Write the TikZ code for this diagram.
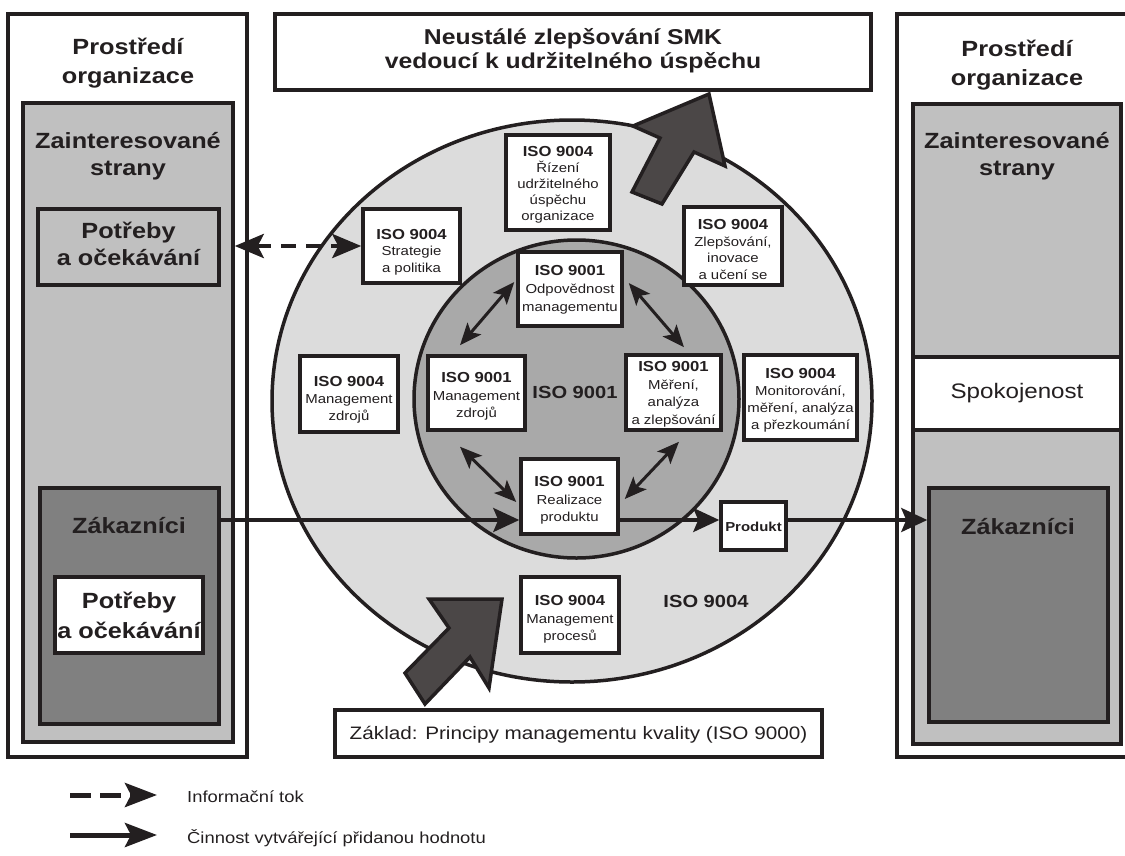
\documentclass[tikz,border=0pt]{standalone}
\usepackage{fontspec}
\setmainfont{Liberation Sans}[FakeStretch=1.15]
\usetikzlibrary{arrows.meta,calc,fit,shapes.geometric}

\definecolor{ink}{HTML}{231F20}
\definecolor{ringlight}{HTML}{DCDCDC}
\definecolor{ringdark}{HTML}{A9A9A9}
\definecolor{panelgray}{HTML}{C0C0C0}
\definecolor{custgray}{HTML}{808080}
\definecolor{blockfill}{HTML}{4B4747}

% bold heading line inside the small process boxes
\newcommand\isohd[1]{{\fontsize{14.5}{16.5}\selectfont\bfseries #1}}

\begin{document}
\begin{tikzpicture}[x=1pt,y=-1pt,line join=miter,
  frame/.style={draw=ink,line width=3.5pt},
  panel/.style={frame,rectangle,inner sep=0pt},
  isobox/.style={panel,fill=white},
  boxtext/.style={text=ink,align=center,inner sep=0pt,font=\fontsize{13}{#1}\selectfont},
  biglabel/.style={text=ink,align=center,inner sep=0pt,font=\fontsize{22}{#1}\selectfont\bfseries},
  biglabel/.default=27,
  ringlabel/.style={text=ink,inner sep=0pt,font=\fontsize{17.5}{20}\selectfont\bfseries},
  legtext/.style={text=ink,inner sep=0pt,font=\fontsize{16}{19}\selectfont},
  flow/.style={draw=ink,line width=3.5pt,-{Stealth[length=26pt,width=24pt,inset=5pt]}},
  twoway/.style={draw=ink,line width=3pt,{Stealth[length=22pt,width=18pt,inset=5pt]}-{Stealth[length=22pt,width=18pt,inset=5pt]}},
  infoflow/.style={draw=ink,line width=4.5pt,dash pattern=on 15pt off 10pt,{Stealth[length=29pt,width=24pt,inset=6pt]}-{Stealth[length=29pt,width=24pt,inset=6pt]}},
  legdash/.style={draw=ink,line width=5pt,dash pattern=on 21pt off 9pt,-{Stealth[length=32pt,width=24pt,inset=6pt]}},
  legsolid/.style={draw=ink,line width=5pt,-{Stealth[length=32pt,width=24pt,inset=6pt]}},
  blockarrow/.style={draw=ink,line width=3.5pt,fill=blockfill}]

\useasboundingbox (0,0) rectangle (1125,855);
\clip (0,0) rectangle (1125,855);

% ---------- left panel: context of the organization ----------
\node[panel,fill=white,fit={(8,14) (247,757)}] (lenv) {};
\node[biglabel=29] (lenvlbl) at (128,63.5) {Prostředí\\organizace};
\node[panel,fill=panelgray,fit={(23,103) (233,742)}] (lgray) {};
\node[biglabel] (lgraylbl) at (128,156.5) {Zainteresované\\strany};
\node[panel,fill=panelgray,fit={(38,209) (219,285)}] (lneeds) {};
\node[biglabel=27] (lneedstxt) at ($(lneeds.center)+(0,-3)$) {Potřeby\\a očekávání};
\node[panel,fill=custgray,fit={(40,488) (219,724)}] (lzak) {};
\node[biglabel] (lzaklbl) at (129,526) {Zákazníci};
\node[panel,fill=white,fit={(55,577) (203,653)}] (lcneeds) {};
\node[biglabel=30] (lcneedstxt) at (lcneeds.center) {Potřeby\\a očekávání};

% ---------- right panel ----------
\node[panel,fill=white,fit={(897,14) (1136,757)}] (renv) {};
\node[panel,fill=panelgray,fit={(913,104) (1121,744)}] (rgray) {};
\node[biglabel=29] (renvlbl) at (1017,65) {Prostředí\\organizace};
\node[biglabel] (rgraylbl) at (1017,156.5) {Zainteresované\\strany};
\node[panel,fill=white,fit={(913,357) (1121,430)}] (rsat) {};
\node[text=ink,inner sep=0pt,font=\fontsize{21}{24}\selectfont] (rsattxt) at (rsat.center) {Spokojenost};
\node[panel,fill=custgray,fit={(929,488) (1108,722)}] (rzak) {};
\node[biglabel] (rzaklbl) at (1018,527) {Zákazníci};

% ---------- title and foundation ----------
\node[panel,fill=white,fit={(275,14) (871,90)}] (title) {};
\node[text=ink,align=center,inner sep=0pt,font=\fontsize{21.5}{24}\selectfont\bfseries] (titletxt) at ($(title.center)+(0,-1.5)$) {Neustálé zlepšování SMK\\vedoucí k udržitelného úspěchu};
\node[panel,fill=white,fit={(335,710) (822,757)}] (base) {};
\node[text=ink,inner sep=0pt,font=\fontsize{18}{21}\selectfont] (basetxt) at ($(base.center)+(0,1.5)$) {Základ: Principy managementu kvality (ISO 9000)};

% ---------- rings ----------
\node[frame,ellipse,fill=ringlight,inner sep=0pt,minimum width=600pt,minimum height=562pt] (ring9004) at (572,401) {};
\node[frame,ellipse,fill=ringdark,inner sep=0pt,minimum width=325pt,minimum height=318pt] (ring9001) at (576.5,399) {};
\node[ringlabel] (lbl9001) at (575,392) {ISO 9001};
\node[ringlabel] (lbl9004) at (706,601) {ISO 9004};

% ---------- ISO 9004 boxes ----------
\node[isobox,fit={(363,209) (460,283)}] (strat) {};
\node[boxtext=16.5] (strattxt) at ($(strat.center)+(0,6)$) {\isohd{ISO 9004}\\Strategie\\a politika};
\node[isobox,fit={(506,135) (610,230)}] (rizeni) {};
\node[boxtext=16] (rizenitxt) at ($(rizeni.center)+(0,2)$) {\isohd{ISO 9004}\\Řízení\\udržitelného\\úspěchu\\organizace};
\node[isobox,fit={(684,207) (782,285)}] (zlep) {};
\node[boxtext=16.5] (zleptxt) at ($(zlep.center)+(0,3.5)$) {\isohd{ISO 9004}\\Zlepšování,\\inovace\\a učení se};
\node[isobox,fit={(300,356) (398,432)}] (mz4) {};
\node[boxtext=17] (mz4txt) at ($(mz4.center)+(0,6)$) {\isohd{ISO 9004}\\Management\\zdrojů};
\node[isobox,fit={(744,355) (857,440)}] (monit) {};
\node[boxtext=17] (monittxt) at ($(monit.center)+(0,2.5)$) {\isohd{ISO 9004}\\Monitorování,\\měření, analýza\\a přezkoumání};
\node[isobox,fit={(521,577) (619,653)}] (mproc) {};
\node[boxtext=17.5] (mproctxt) at ($(mproc.center)+(0,4.5)$) {\isohd{ISO 9004}\\Management\\procesů};

% ---------- ISO 9001 boxes ----------
\node[isobox,fit={(518,252) (622,326)}] (odp) {};
\node[boxtext=17.8] (odptxt) at ($(odp.center)+(0,0.5)$) {\isohd{ISO 9001}\\Odpovědnost\\managementu};
\node[isobox,fit={(428,356) (525,430)}] (mz1) {};
\node[boxtext=17.5] (mz1txt) at ($(mz1.center)+(0,3.5)$) {\isohd{ISO 9001}\\Management\\zdrojů};
\node[isobox,fit={(626,355) (721,430)}] (mer) {};
\node[boxtext=17.5] (mertxt) at ($(mer.center)+(0,2)$) {\isohd{ISO 9001}\\Měření,\\analýza\\a zlepšování};
\node[isobox,fit={(521,459) (618,534)}] (real) {};
\node[boxtext=17.5] (realtxt) at ($(real.center)+(0,4)$) {\isohd{ISO 9001}\\Realizace\\produktu};
\node[isobox,fit={(721,502) (786,550)}] (prod) {};
\node[text=ink,inner sep=0pt,font=\fontsize{13}{16}\selectfont\bfseries] (prodtxt) at ($(prod.center)+(0,1)$) {Produkt};

% ---------- links between the ISO 9001 processes ----------
\draw[twoway] ($(odp.west)+(-2,-7)$) -- ($(mz1.north)+(-16.5,-9)$);
\draw[twoway] ($(odp.east)+(5,-6)$) -- ($(mer.north)+(10.5,-6)$);
\draw[twoway] ($(mz1.south)+(-16.5,15)$) -- ($(real.west)+(-3,5.5)$);
\draw[twoway] ($(mer.south)+(5.5,10)$) -- ($(real.east)+(5,2.5)$);

% ---------- value-adding flow ----------
\coordinate (flowy) at (0,520);
\draw[flow] (lzak.east |- flowy) -- (real.west |- flowy);
\draw[flow] (real.east |- flowy) -- (prod.west |- flowy);
\draw[flow] (prod.east |- flowy) -- (rzak.west |- flowy);

% ---------- information flow ----------
\draw[infoflow] (lgray.east |- strat.west) -- (strat.west);

% ---------- block arrows ----------
\filldraw[blockarrow] (709,94) -- (725,166) -- (694,152) -- (662,204) -- (632,192) -- (660,138) -- (633,126) -- cycle;
\filldraw[blockarrow] (502,599) -- (489,688) -- (470,657) -- (425,704) -- (405,673) -- (449,628) -- (429,599) -- cycle;

% ---------- legend ----------
\node[legtext,anchor=west] (leginfo) at (187,797) {Informační tok};
\node[legtext,anchor=west] (legvalue) at (187,838) {Činnost vytvářející přidanou hodnotu};
\coordinate (leginfostart) at (70,795);
\coordinate (legvaluestart) at (70,835);
\draw[legdash] (leginfostart) -- ($(leginfo.west)+(-30,-2)$);
\draw[legsolid] (legvaluestart) -- ($(legvalue.west)+(-30,-3)$);

\end{tikzpicture}
\end{document}
